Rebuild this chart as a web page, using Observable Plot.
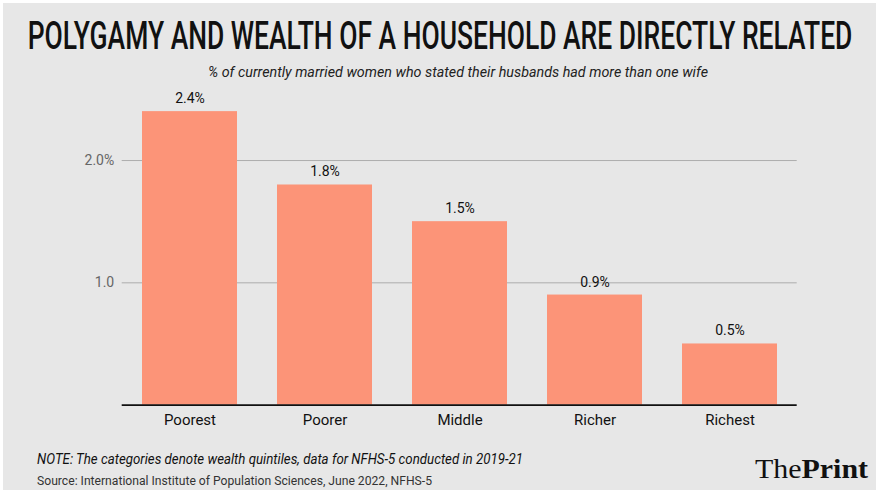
<!DOCTYPE html>
<html><head><meta charset="utf-8">
<script src="https://cdn.jsdelivr.net/npm/d3@7"></script>
<script src="https://cdn.jsdelivr.net/npm/@observablehq/plot@0.6"></script>
<style>
html,body{margin:0;padding:0;background:#fff;}
#wrap{position:relative;width:880px;height:495px;overflow:hidden;background:#fff;}
#panel{position:absolute;left:3px;top:3px;width:873px;height:487px;background:#e7e7e7;}
#chart{position:absolute;left:0;top:0;}
#txt{position:absolute;left:0;top:0;pointer-events:none;}
</style></head><body>
<div id="wrap">
<div id="panel"></div>
<div id="chart"></div>
<svg id="txt" width="880" height="495" xmlns="http://www.w3.org/2000/svg">
  <text id="title" x="0" y="0" text-anchor="middle" font-family="Roboto,sans-serif" font-weight="500" font-size="38" fill="#111">POLYGAMY AND WEALTH OF A HOUSEHOLD ARE DIRECTLY RELATED</text>
  <text x="458" y="77" text-anchor="middle" textLength="500" lengthAdjust="spacingAndGlyphs" font-family="Roboto,sans-serif" font-style="italic" font-size="15" fill="#222">% of currently married women who stated their husbands had more than one wife</text>
  <text x="37" y="464" textLength="486" lengthAdjust="spacingAndGlyphs" font-family="Roboto,sans-serif" font-style="italic" font-size="14.5" fill="#111">NOTE: The categories denote wealth quintiles, data for NFHS-5 conducted in 2019-21</text>
  <text x="37" y="485" textLength="395" lengthAdjust="spacingAndGlyphs" font-family="Roboto,sans-serif" font-size="12.5" fill="#333">Source: International Institute of Population Sciences, June 2022, NFHS-5</text>
  <text x="755" y="478" textLength="113" lengthAdjust="spacingAndGlyphs" font-family="'Liberation Serif',serif" font-size="27" fill="#111"><tspan>The</tspan><tspan font-weight="bold">Print</tspan></text>
</svg>
</div>
<script>
const categories = ["Poorest", "Poorer", "Middle", "Richer", "Richest"];
const values = [2.4, 1.8, 1.5, 0.9, 0.5];
const valueLabels = ["2.4%", "1.8%", "1.5%", "0.9%", "0.5%"];
const yTicks = [1, 2];
const yTickLabels = ["1.0", "2.0%"];

const data = categories.map((c, i) => ({category: c, value: values[i], label: valueLabels[i]}));

const chart = Plot.plot({
  width: 880,
  height: 440,
  marginTop: 98.9,
  marginBottom: 35.4,
  marginLeft: 121.7,
  marginRight: 83.3,
  style: {background: "transparent", fontFamily: "Roboto, sans-serif", overflow: "visible"},
  x: {domain: categories, paddingInner: 0.3, paddingOuter: 0.15, label: null},
  y: {domain: [0, 2.5], label: null},
  marks: [
    Plot.ruleY(yTicks, {stroke: "#adadad", strokeWidth: 1}),
    Plot.barY(data, {x: "category", y: "value", fill: "#fc9478"}),
    Plot.ruleY([0], {stroke: "#111", strokeWidth: 1.6}),
    Plot.text(data, {x: "category", y: "value", text: "label", dy: -13, fontSize: 14, fill: "#111"}),
    Plot.axisY(yTicks, {tickSize: 0, tickPadding: 8, tickFormat: d => yTickLabels[yTicks.indexOf(d)], fontSize: 14, fill: "#666", label: null}),
    Plot.axisX({tickSize: 0, tickPadding: 9, fontSize: 15, fill: "#111", label: null})
  ]
});
document.getElementById("chart").appendChild(chart);

// Fit the title to the reference width by shrinking it and stretching it vertically
const title = document.getElementById("title");
const baseSize = 38;
const w = title.getComputedTextLength();
const fs = baseSize * 825 / w;
title.setAttribute("font-size", fs);
title.setAttribute("transform", `translate(440,49) scale(1,${baseSize / fs})`);
</script>
</body></html>
